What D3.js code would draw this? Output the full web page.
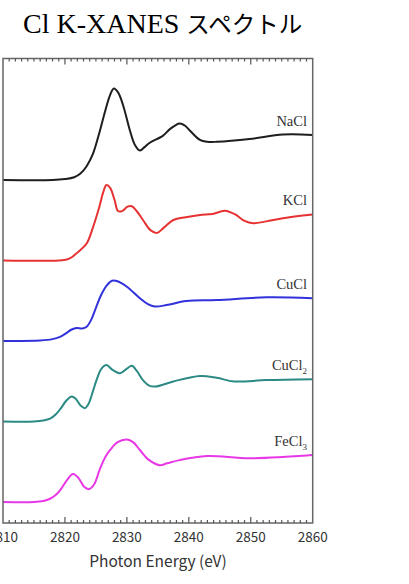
<!DOCTYPE html>
<html>
<head>
<meta charset="utf-8">
<script src="https://cdn.jsdelivr.net/npm/d3@7"></script>
<style>
body { margin: 0; background: #fff; }
svg { display: block; }
</style>
</head>
<body>
<svg id="chart" width="409" height="584"></svg>
<script>
// Cl K-edge spectra, [photon energy (eV), normalised absorbance]
var naclData = [[2810,0],[2818,0],[2820,0.02],[2821.5,0.06],[2822.5,0.14],[2823.5,0.3],[2824.5,0.56],
    [2825.5,1.0],[2826.5,1.5],[2827.3,1.85],[2827.9,1.99],[2828.6,1.9],[2829.4,1.62],[2830.5,1.07],
    [2831.3,0.76],[2832.1,0.64],[2832.9,0.72],[2833.7,0.81],[2835.8,0.96],[2837,1.11],[2838.5,1.23],
    [2839.4,1.18],[2840.2,1.07],[2841.8,0.87],[2843,0.83],[2844.5,0.83],[2849.8,0.89],[2855.2,0.99],[2860,0.98]];
var kclData = [[2810,0],[2819,0],[2820.3,0.02],[2821.1,0.07],[2821.9,0.16],[2823.5,0.37],[2824.5,0.71],
    [2825.5,1.14],[2826.2,1.49],[2826.7,1.64],[2827.3,1.58],[2828,1.32],[2828.6,1.07],[2829.3,1.08],
    [2830.1,1.17],[2830.8,1.18],[2831.6,1.07],[2832.6,0.88],[2833.8,0.66],[2834.9,0.6],[2836,0.72],
    [2837.5,0.88],[2839.5,0.94],[2841.8,0.99],[2843.8,1.01],[2845.8,1.08],[2847.5,1.0],[2849,0.86],
    [2850.4,0.81],[2852.5,0.85],[2855.2,0.92],[2860,1.0]];
var cuclData = [[2810,0],[2816,0.01],[2818,0.04],[2819.2,0.09],[2820.2,0.17],[2821.1,0.25],[2821.9,0.28],
    [2822.8,0.27],[2823.5,0.31],[2824.2,0.45],[2825,0.72],[2825.8,0.99],[2826.7,1.2],[2827.6,1.31],
    [2828.5,1.3],[2830,1.18],[2832.1,0.93],[2833.4,0.8],[2834.5,0.75],[2836.4,0.78],[2839.6,0.87],
    [2844.5,0.89],[2852.5,0.95],[2860,0.93]];
var cucl2Data = [[2810,0],[2815,0],[2816.5,0.02],[2817.6,0.06],[2818.5,0.15],[2819.3,0.28],[2820.2,0.45],
    [2821,0.54],[2821.7,0.5],[2822.5,0.35],[2823.2,0.29],[2823.8,0.38],[2824.5,0.65],[2825.1,0.9],
    [2825.9,1.15],[2826.7,1.23],[2827.7,1.12],[2828.9,1.05],[2830,1.15],[2830.8,1.21],[2831.6,1.1],
    [2832.6,0.9],[2833.6,0.78],[2834.6,0.76],[2837.5,0.87],[2841.8,0.99],[2844.5,0.95],[2847.3,0.87],
    [2852.5,0.9],[2860,0.92]];
var fecl3Data = [[2810,0],[2815,0],[2816.5,0.02],[2817.6,0.07],[2818.5,0.15],[2819.3,0.27],[2820.3,0.47],
    [2821.3,0.61],[2822.2,0.52],[2823.1,0.33],[2823.9,0.28],[2824.7,0.38],[2825.6,0.7],[2826.5,0.97],
    [2827.3,1.13],[2828.5,1.3],[2830,1.36],[2831,1.3],[2832.1,1.13],[2833.5,0.92],[2835.3,0.8],
    [2836.5,0.84],[2838.5,0.91],[2842.9,1.0],[2849.8,0.95],[2860,1.02]];

var seriesNames = ["NaCl", "KCl", "CuCl", "CuCl2", "FeCl3"];
var seriesData = [naclData, kclData, cuclData, cucl2Data, fecl3Data];
var offsets = [7.0, 5.25, 3.5, 1.75, 0];
var colors = ["#1e1e1e", "#e63232", "#3232dc", "#2b8a84", "#e838e6"];
var xTicks = [2810, 2820, 2830, 2840, 2850, 2860];

function drawChart() {
    var svg = d3.select("#chart");
    var left = 3, right = 312.7, plotTop = 58.5, plotBottom = 523;

    var x = d3.scaleLinear().domain([2810, 2860]).range([left, right]);
    var y = d3.scaleLinear().domain([-0.457, 9.641]).range([plotBottom, plotTop]);

    // title
    var title = svg.append("text")
        .attr("x", 23)
        .attr("y", 33)
        .style("fill", "#000");
    title.append("tspan")
        .style("font-family", "'Liberation Serif', 'Times New Roman', serif")
        .style("font-size", "28px")
        .text("Cl K-XANES ");
    title.append("tspan")
        .style("font-family", "'Noto Sans CJK JP', sans-serif")
        .style("font-size", "23.5px")
        .text("スペクトル");

    // spectra
    var line = d3.line()
        .x(function(d){ return x(d[0]); })
        .curve(d3.curveCatmullRom.alpha(0.5));

    seriesData.forEach(function(data, i) {
        var off = offsets[i];
        line.y(function(d){ return y(d[1] + off); });
        svg.append("path")
            .datum(data)
            .attr("d", line)
            .style("fill", "none")
            .style("stroke", colors[i])
            .style("stroke-width", 2)
            .style("stroke-linejoin", "round");

        var last = data[data.length - 1];
        var name = seriesNames[i];
        var lbl = svg.append("text")
            .attr("x", 307)
            .attr("y", y(last[1] + off) - 9)
            .attr("text-anchor", "end")
            .style("font-family", "'Liberation Serif', 'Times New Roman', serif")
            .style("font-size", "14.5px")
            .style("fill", "#333");
        // subscripts for CuCl2 and FeCl3
        var m = name.match(/^(.*?)(\d)$/);
        if (m) {
            lbl.append("tspan").text(m[1]);
            lbl.append("tspan").attr("dy", 4).style("font-size", "9px").text(m[2]);
        } else {
            lbl.text(name);
        }
    });

    // frame
    svg.append("rect")
        .attr("x", left)
        .attr("y", plotTop)
        .attr("width", right - left)
        .attr("height", plotBottom - plotTop)
        .style("fill", "none")
        .style("stroke", "#666")
        .style("stroke-width", 1.5);

    // inward ticks, top and bottom
    var minor = d3.range(2811, 2860, 1).filter(function(d){ return d % 10 != 0; });
    var major = [2820, 2830, 2840, 2850];
    var tickG = svg.append("g").style("stroke", "#555").style("stroke-width", 1.2);
    [[minor, 3], [major, 6]].forEach(function(t){
        tickG.selectAll(null).data(t[0]).enter().append("line")
            .attr("x1", function(d){ return x(d); }).attr("x2", function(d){ return x(d); })
            .attr("y1", plotBottom).attr("y2", plotBottom - t[1]);
        tickG.selectAll(null).data(t[0]).enter().append("line")
            .attr("x1", function(d){ return x(d); }).attr("x2", function(d){ return x(d); })
            .attr("y1", plotTop).attr("y2", plotTop + t[1]);
    });

    // tick labels
    svg.selectAll(".tlabel").data(xTicks).enter().append("text")
        .attr("class", "tlabel")
        .attr("x", function(d){ return x(d); })
        .attr("y", 542)
        .attr("text-anchor", "middle")
        .style("font-family", "'Noto Sans CJK JP', 'DejaVu Sans', sans-serif")
        .style("font-size", "13.5px")
        .style("fill", "#333")
        .text(function(d){ return d; });

    // axis title
    svg.append("text")
        .attr("x", 158)
        .attr("y", 567)
        .attr("text-anchor", "middle")
        .style("font-family", "'Noto Sans CJK JP', 'DejaVu Sans', sans-serif")
        .style("font-size", "15.5px")
        .style("fill", "#333")
        .text("Photon Energy (eV)");
}

drawChart();
</script>
</body>
</html>
